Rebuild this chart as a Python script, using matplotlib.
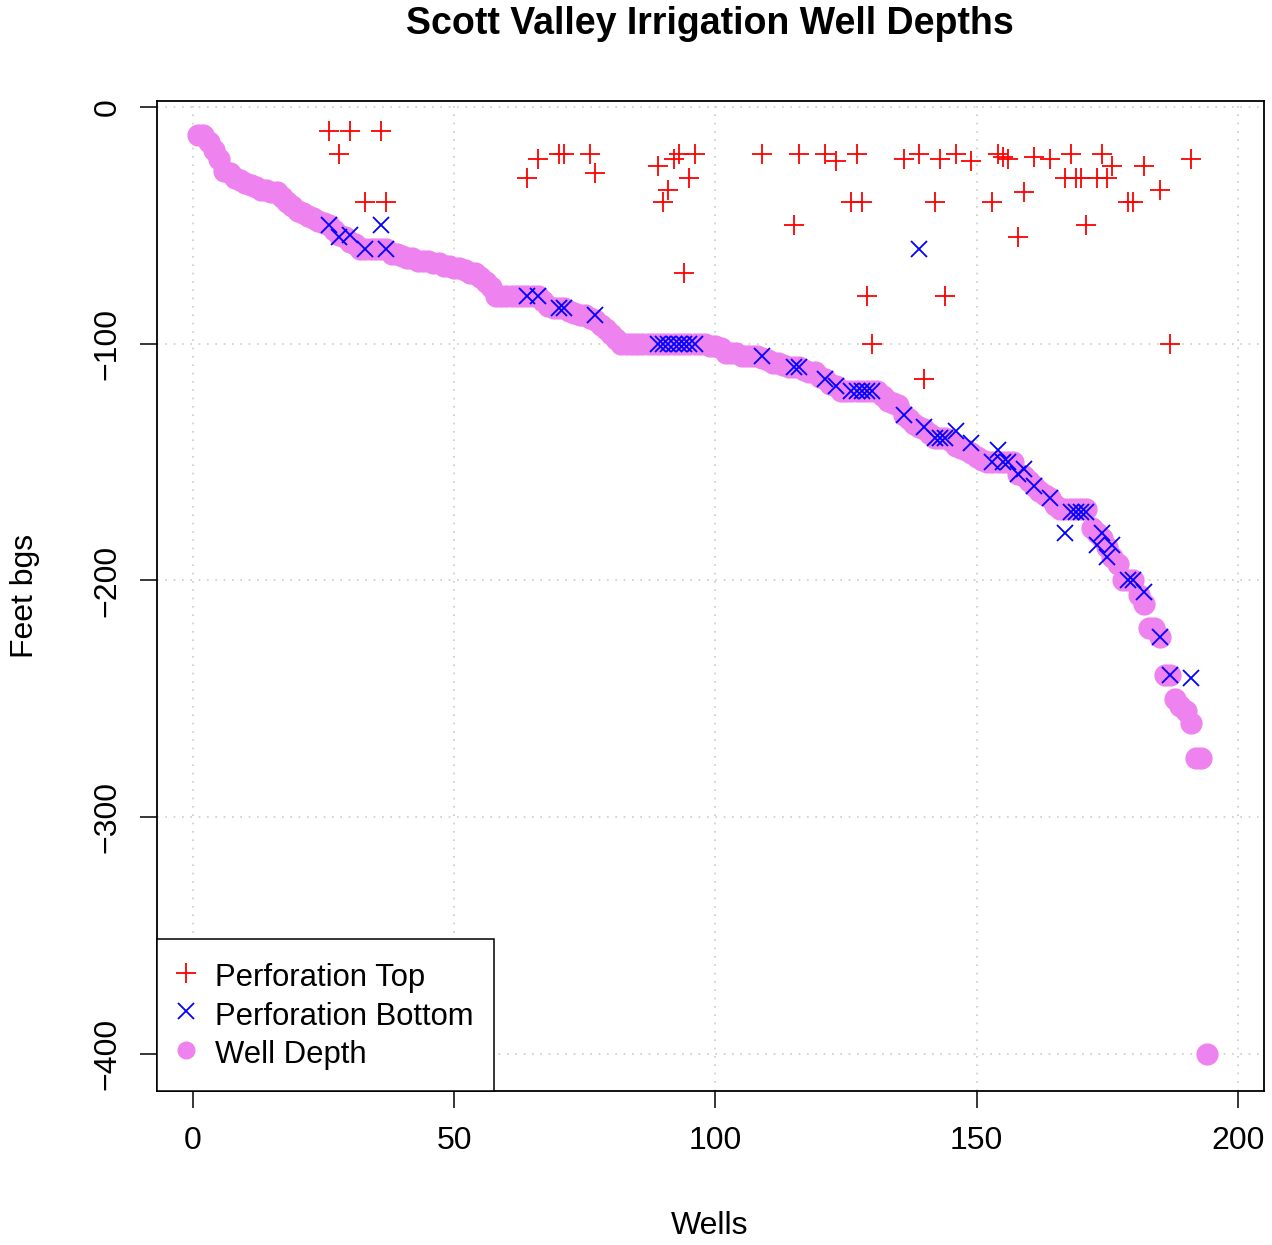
import matplotlib
matplotlib.use("Agg")
import matplotlib.pyplot as plt
from matplotlib.lines import Line2D

plt.rcParams['font.family'] = ['Liberation Sans', 'DejaVu Sans']

# Total well depth (ft below ground surface), wells ranked shallow -> deep
well_depth = [
    -12, -12, -15, -18, -22, -27, -28, -30, -31, -32,      # 1-10
    -33, -34, -35, -35, -36, -36, -38, -40, -42, -44,      # 11-20
    -45, -46, -47, -48, -49, -50, -52, -54, -55, -57,      # 21-30
    -58, -60, -60, -60, -60, -60, -60, -62, -62, -63,      # 31-40
    -64, -64, -65, -65, -65, -66, -66, -67, -67, -68,      # 41-50
    -68, -69, -70, -70, -72, -74, -76, -80, -80, -80,      # 51-60
    -80, -80, -80, -80, -80, -80, -82, -84, -85, -85,      # 61-70
    -85, -86, -87, -88, -88, -89, -90, -92, -94, -96,      # 71-80
    -98, -100, -100, -100, -100, -100, -100, -100, -100, -100,  # 81-90
    -100, -100, -100, -100, -100, -100, -100, -100, -101, -101,  # 91-100
    -102, -104, -104, -104, -105, -105, -105, -105, -106, -107,  # 101-110
    -108, -108, -109, -110, -110, -110, -111, -112, -112, -114,  # 111-120
    -115, -117, -118, -120, -120, -120, -120, -120, -120, -120,  # 121-130
    -120, -122, -124, -125, -126, -130, -132, -134, -135, -136,  # 131-140
    -138, -140, -140, -140, -141, -143, -144, -145, -146, -148,  # 141-150
    -149, -150, -150, -150, -150, -150, -150, -155, -156, -158,  # 151-160
    -160, -162, -164, -165, -168, -170, -170, -170, -170, -170,  # 161-170
    -170, -178, -180, -182, -186, -190, -193, -200, -200, -200,  # 171-180
    -206, -210, -220, -220, -224, -240, -240, -250, -253, -255,  # 181-190
    -260, -275, -275, -400,                                      # 191-194
]
wells = list(range(1, len(well_depth) + 1))

# Perforated interval, top (ft bgs) for wells where it is reported
perf_top_wells = [26, 28, 30, 33, 36, 37, 64, 66, 70, 71, 76, 77,
                  89, 90, 91, 92, 93, 94, 95, 96,
                  109, 115, 116, 121, 123, 126, 127, 128, 129, 130,
                  136, 139, 140, 142, 143, 144, 146, 149,
                  153, 154, 155, 156, 158, 159, 161, 164,
                  167, 168, 169, 170, 171, 173, 174, 175, 176,
                  179, 180, 182, 185, 187, 191]
perf_top_ft = [-10, -20, -10, -40, -10, -40, -30, -22, -20, -20, -20, -28,
               -25, -40, -35, -22, -20, -70, -30, -20,
               -20, -50, -20, -20, -23, -40, -20, -40, -80, -100,
               -22, -20, -115, -40, -22, -80, -20, -23,
               -40, -20, -21, -22, -55, -36, -21, -22,
               -30, -20, -30, -30, -50, -30, -20, -30, -25,
               -40, -40, -25, -35, -100, -22]

# Perforated interval, bottom (ft bgs)
perf_bot_wells = [26, 28, 30, 33, 36, 37, 64, 66, 70, 71, 77,
                  89, 90, 91, 92, 93, 94, 95, 96,
                  109, 115, 116, 121, 123, 126, 127, 128, 129, 130,
                  136, 139, 140, 142, 143, 144, 146, 149,
                  153, 154, 155, 156, 158, 159, 161, 164,
                  167, 168, 169, 170, 171, 173, 174, 175, 176,
                  179, 180, 182, 185, 187, 191]
perf_bot_ft = [-50, -55, -54, -60, -50, -60, -80, -80, -85, -85, -88,
               -100, -100, -100, -100, -100, -100, -100, -100,
               -105, -110, -110, -115, -118, -120, -120, -120, -120, -120,
               -130, -60, -135, -140, -140, -140, -137, -142,
               -150, -145, -150, -150, -155, -153, -160, -165,
               -180, -171, -171, -171, -171, -185, -180, -190, -185,
               -200, -200, -205, -224, -240, -241]

x_ticks = [0, 50, 100, 150, 200]
y_ticks = [0, -100, -200, -300, -400]

W, H = 1272, 1245
fig = plt.figure(figsize=(W / 100, H / 100), dpi=100)
L, R, T, B = 157, 1264, 101, 1091
ax = fig.add_axes([L / W, 1 - B / H, (R - L) / W, (B - T) / H])

ax.set_xlim(-6.9, 205.0)
ax.set_ylim(-415.6, 2.5)

# Light dotted reference grid
for xv in x_ticks:
    ax.axvline(xv, color='#cccccc', lw=1.2, ls=(0, (1, 4)), zorder=0)
for yv in y_ticks:
    ax.axhline(yv, color='#cccccc', lw=1.2, ls=(0, (1, 4)), zorder=0)

ax.plot(wells, well_depth, ls='none', marker='o', ms=16, color='violet',
        mec='none', zorder=2)
ax.plot(perf_top_wells, perf_top_ft, ls='none', marker='+', ms=15, mew=1.3,
        color='red', zorder=3)
ax.plot(perf_bot_wells, perf_bot_ft, ls='none', marker='x', ms=11, mew=1.3,
        color='blue', zorder=3)

ax.set_xticks(x_ticks)
ax.set_yticks(y_ticks)
ax.set_xticklabels([str(v) for v in x_ticks])
ax.set_yticklabels([str(v).replace('-', '\u2212') for v in y_ticks],
                   rotation=90, va='center')
ax.tick_params(axis='both', direction='out', length=12, width=1.1,
               labelsize=23, color='black')
ax.tick_params(axis='x', pad=13)
ax.tick_params(axis='y', pad=13)
for s in ax.spines.values():
    s.set_linewidth(1.3)

fig.text(710 / W, 1 - 24 / H, 'Scott Valley Irrigation Well Depths',
         ha='center', va='center', fontsize=27, fontweight='bold')
fig.text(710 / W, 1 - 1226 / H, 'Wells', ha='center', va='center', fontsize=23)
fig.text(25 / W, 1 - 596 / H, 'Feet bgs', ha='center', va='center',
         fontsize=23, rotation=90)

handles = [
    Line2D([], [], ls='none', marker='+', ms=15, mew=1.3, color='red'),
    Line2D([], [], ls='none', marker='x', ms=11, mew=1.3, color='blue'),
    Line2D([], [], ls='none', marker='o', ms=13, color='violet', mec='none'),
]
leg = ax.legend(handles, ['Perforation Top', 'Perforation Bottom', 'Well Depth'],
                loc='lower left', borderaxespad=0, fontsize=22.3, frameon=True,
                fancybox=False, edgecolor='black', framealpha=1,
                handlelength=0.5, handleheight=1.23, handletextpad=0.69,
                labelspacing=0.15, borderpad=0.68)
leg.get_frame().set_linewidth(1.1)

fig.savefig('out.png', dpi=100)
